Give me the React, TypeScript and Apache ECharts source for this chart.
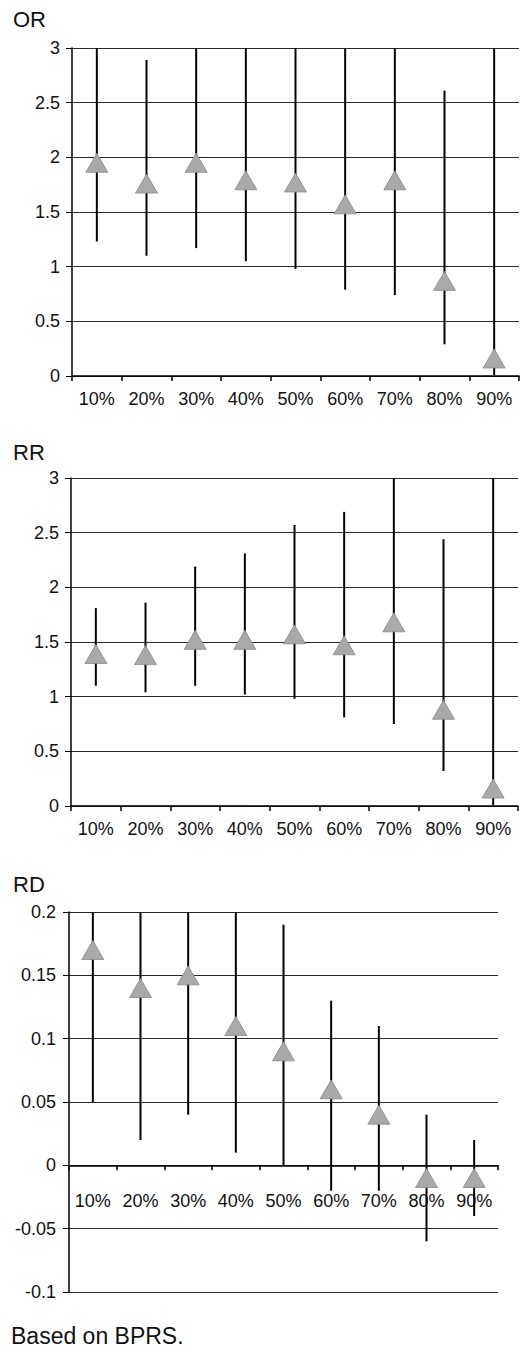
import React, { useEffect, useRef } from "react";
import * as echarts from "echarts";

const categories = ["10%", "20%", "30%", "40%", "50%", "60%", "70%", "80%", "90%"];

// OR panel
const orEst = [1.95, 1.76, 1.95, 1.79, 1.77, 1.57, 1.79, 0.87, 0.16];
const orLow = [1.23, 1.1, 1.17, 1.05, 0.98, 0.79, 0.74, 0.29, 0.01];
const orHigh = [3.5, 2.89, 3.5, 3.5, 3.5, 3.5, 3.5, 2.61, 3.5];

// RR panel
const rrEst = [1.39, 1.38, 1.52, 1.52, 1.57, 1.47, 1.68, 0.88, 0.16];
const rrLow = [1.1, 1.04, 1.1, 1.02, 0.98, 0.81, 0.75, 0.32, 0.01];
const rrHigh = [1.81, 1.86, 2.19, 2.31, 2.57, 2.69, 3.5, 2.44, 3.5];

// RD panel
const rdEst = [0.17, 0.14, 0.15, 0.11, 0.09, 0.06, 0.04, -0.01, -0.01];
const rdLow = [0.05, 0.02, 0.04, 0.01, 0.0, -0.02, -0.02, -0.06, -0.04];
const rdHigh = [0.25, 0.25, 0.25, 0.25, 0.19, 0.13, 0.11, 0.04, 0.02];

const panelTitles = ["OR", "RR", "RD"];
const footnote = "Based on BPRS.";

const FONT = '"Liberation Sans", Arial, Helvetica, sans-serif';

export default function App() {
  const ref = useRef<HTMLDivElement>(null);

  useEffect(() => {
    document.body.style.margin = "0";
    const chart = echarts.init(ref.current!, null, { renderer: "svg" });

    const grids = [
      { left: 72, top: 48, width: 447, height: 328 },
      { left: 71, top: 478, width: 447, height: 328 },
      { left: 69, top: 912, width: 429, height: 380 },
    ];
    const yCfg = [
      { min: 0, max: 3, interval: 0.5, margin: 12 },
      { min: 0, max: 3, interval: 0.5, margin: 12 },
      { min: -0.1, max: 0.2, interval: 0.05, margin: 13 },
    ];
    const labelMargin = [14, 14, 27];
    const ests = [orEst, rrEst, rdEst];
    const lows = [orLow, rrLow, rdLow];
    const highs = [orHigh, rrHigh, rdHigh];

    const xAxis = grids.map((g, i) => {
      const c = yCfg[i];
      // place the category axis where value 0 lies (above grid bottom when min < 0)
      const zeroOffset = c.min < 0 ? -((0 - c.min) / (c.max - c.min)) * g.height : 0;
      return {
        type: "category",
        gridIndex: i,
        data: categories,
        boundaryGap: true,
        offset: zeroOffset,
        axisLine: { show: true, onZero: false, lineStyle: { color: "#000", width: 1.5 } },
        axisTick: { show: true, length: 5, lineStyle: { color: "#000", width: 1.5 } },
        axisLabel: {
          interval: 0,
          color: "#111",
          fontSize: 18,
          fontFamily: FONT,
          margin: labelMargin[i],
        },
        splitLine: { show: false },
        z: 3,
      };
    });

    const yAxis = yCfg.map((c, i) => ({
      type: "value",
      gridIndex: i,
      min: c.min,
      max: c.max,
      interval: c.interval,
      axisLine: { show: true, onZero: false, lineStyle: { color: "#000", width: 1.5 } },
      axisTick: { show: true, length: 6, lineStyle: { color: "#000", width: 1 } },
      axisLabel: {
        color: "#111",
        fontSize: 18,
        fontFamily: FONT,
        margin: c.margin,
        formatter: (v: number) => String(parseFloat(v.toFixed(3))),
      },
      splitLine: { show: true, lineStyle: { color: "#2a2a2a", width: 1 } },
    }));

    const series: any[] = [];
    grids.forEach((_, i) => {
      series.push({
        type: "custom",
        xAxisIndex: i,
        yAxisIndex: i,
        z: 4,
        encode: { x: 0, y: [1, 2] },
        data: categories.map((_, k) => [k, lows[i][k], highs[i][k]]),
        renderItem: (params: any, api: any) => {
          const x = api.value(0);
          const lo = api.value(1);
          const hi = api.value(2);
          const p1 = api.coord([x, lo]);
          const p2 = api.coord([x, hi]);
          const cs = params.coordSys;
          const clamp = (y: number) => Math.max(cs.y, Math.min(cs.y + cs.height, y));
          return {
            type: "line",
            shape: { x1: p1[0], y1: clamp(p1[1]), x2: p2[0], y2: clamp(p2[1]) },
            style: { stroke: "#000", lineWidth: 2 },
          };
        },
      });
      series.push({
        type: "scatter",
        xAxisIndex: i,
        yAxisIndex: i,
        z: 5,
        symbol: "triangle",
        symbolSize: [22, 19],
        itemStyle: { color: "#a9a9a9", borderColor: "#8a8a8a", borderWidth: 0.8, opacity: 1 },
        data: ests[i],
      });
    });

    const titleTops = [8, 441, 873];
    const graphic: any[] = panelTitles.map((t, i) => ({
      type: "text",
      left: 13,
      top: titleTops[i],
      style: { text: t, font: `22px ${FONT}`, fill: "#111" },
    }));
    graphic.push({
      type: "text",
      left: 11,
      top: 1324,
      style: { text: footnote, font: `23px ${FONT}`, fill: "#111" },
    });

    chart.setOption({
      animation: false,
      backgroundColor: "#fff",
      grid: grids,
      xAxis,
      yAxis,
      series,
      graphic,
    });

    return () => chart.dispose();
  }, []);

  return <div ref={ref} style={{ width: 521, height: 1349 }} />;
}
